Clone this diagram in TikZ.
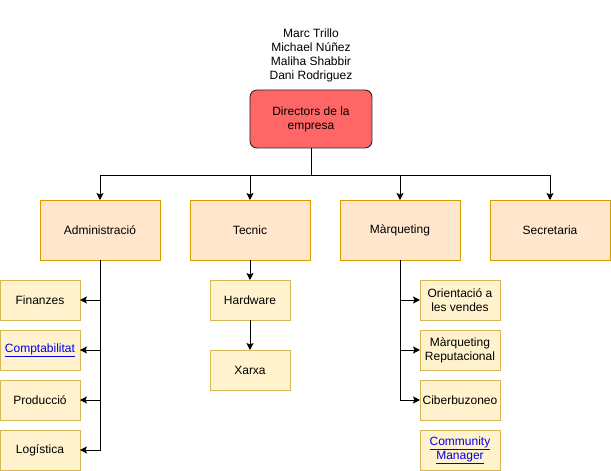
\documentclass[tikz,border=0pt]{standalone}
\usepackage{fontspec}
\setmainfont{Liberation Sans}
\usepackage{tikz}
\usetikzlibrary{arrows.meta, positioning}
\definecolor{directorred}{HTML}{FF6666}
\definecolor{areafill}{HTML}{FFE6CC}
\definecolor{arealine}{HTML}{D79B00}
\definecolor{subfill}{HTML}{FFF2CC}
\definecolor{subline}{HTML}{D6B656}
\definecolor{linkblue}{HTML}{0000EE}
\newcommand{\weblink}[1]{\textcolor{linkblue}{\underline{#1}}}

\begin{document}
\begin{tikzpicture}[
    font=\fontsize{12}{14}\selectfont,
    every node/.style={outer sep=0pt},
    director/.style={draw=black!85, fill=directorred, rounded corners=7pt, minimum width=122pt, minimum height=58pt, align=center, line width=0.9pt},
    area/.style={draw=arealine, fill=areafill, minimum width=120pt, minimum height=60pt, align=center, line width=0.9pt},
    sub/.style={draw=subline, fill=subfill, minimum width=80pt, minimum height=40pt, align=center, inner sep=1pt, line width=0.9pt},
    arrow/.style={-{Stealth[length=7pt, width=7pt, inset=1.5pt]}, line width=0.9pt}
]
\useasboundingbox (-311pt,119pt) rectangle (300pt,-352pt);

\node[director] (dir) at (0,0) {Directors de la\\empresa};
\node[above=8pt of dir, inner sep=0pt, align=center] (names) {Marc Trillo\\Michael Núñez\\Maliha Shabbir\\Dani Rodriguez};

\node[area, below left=52pt and 90pt of dir] (adm) {Administració};
\node[area, right=30pt of adm] (tec) {Tecnic};
\node[area, right=30pt of tec] (mkt) {Màrqueting};
\node[area, right=30pt of mkt] (sec) {Secretaria};

\node[sub, below=20pt of adm.south west] (fin) {Finanzes};
\node[sub, below=10pt of fin] (comp) {\weblink{Comptabilitat}};
\node[sub, below=10pt of comp] (prod) {Producció};
\node[sub, below=10pt of prod] (log) {Logística};

\node[sub, below=20pt of tec] (hw) {Hardware};
\node[sub, below=30pt of hw] (xarxa) {Xarxa};

\node[sub, below=20pt of mkt.south east] (ori) {Orientació a\\les vendes};
\node[sub, below=10pt of ori] (rep) {Màrqueting\\Reputacional};
\node[sub, below=10pt of rep] (cib) {Ciberbuzoneo};
\node[sub, below=10pt of cib] (cm) {\weblink{Community}\\\weblink{Manager}};

\draw[line width=0.9pt] (dir.south) -- ++(0,-27pt) coordinate (bus);
\draw[arrow] (bus) -| (adm.north);
\draw[arrow] (bus) -| (tec.north);
\draw[arrow] (bus) -| (mkt.north);
\draw[arrow] (bus) -| (sec.north);

\draw[arrow] (adm.south) |- (fin.east);
\draw[arrow] (adm.south) |- (comp.east);
\draw[arrow] (adm.south) |- (prod.east);
\draw[arrow] (adm.south) |- (log.east);

\draw[arrow] (tec) -- (hw);
\draw[arrow] (hw) -- (xarxa);

\draw[arrow] (mkt.south) |- (ori.west);
\draw[arrow] (mkt.south) |- (rep.west);
\draw[arrow] (mkt.south) |- (cib.west);

\end{tikzpicture}
\end{document}
